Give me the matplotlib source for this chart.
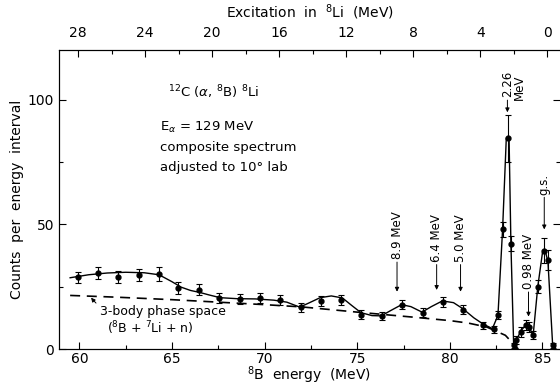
import numpy as np
import matplotlib.pyplot as plt

# measured points (8B energy in MeV, counts, error)
energy = [59.9, 61.0, 62.1, 63.2, 64.3, 65.35, 66.47, 67.56, 68.67, 69.75, 70.83,
          71.94, 73.02, 74.15, 75.23, 76.34, 77.44, 78.55, 79.63, 80.71, 81.78,
          82.36, 82.61, 82.86, 83.13, 83.28, 83.45, 83.6, 83.85, 84.12, 84.3,
          84.5, 84.75, 85.1, 85.28, 85.56]
counts = [28.8, 30.4, 28.8, 29.6, 30.0, 24.4, 23.7, 20.4, 20.1, 20.4, 19.7,
          16.7, 19.3, 19.7, 13.7, 13.3, 17.7, 14.6, 19.0, 15.7, 9.6,
          7.9, 13.7, 48.1, 84.6, 42.2, 1.5, 3.6, 7.0, 9.5, 9.0,
          5.6, 25.0, 39.5, 35.7, 1.6]
errors = [2.2, 2.5, 2.5, 2.5, 2.8, 2.4, 2.2, 2.0, 2.0, 2.0, 2.0,
          1.8, 2.0, 2.0, 1.8, 1.6, 1.8, 1.8, 2.0, 1.8, 1.4,
          1.3, 1.6, 3.0, 9.5, 3.0, 1.0, 1.5, 2.0, 2.0, 2.0,
          1.5, 2.5, 5.0, 4.0, 1.0]

# hand-drawn fit curve
fit_e = [59.5, 60.5, 61.5, 62.5, 63.5, 64.3, 65.0, 65.5, 66.0, 66.5, 67.0, 67.6,
         68.5, 69.5, 70.5, 71.2, 71.9, 72.4, 73.0, 73.6, 74.2, 74.7, 75.2, 75.8,
         76.3, 76.8, 77.4, 77.9, 78.5, 79.0, 79.6, 80.2, 80.7, 81.3, 81.8, 82.3,
         82.6, 82.85, 83.05, 83.2, 83.3, 83.45, 83.6, 83.85, 84.1, 84.3, 84.5,
         84.75, 85.0, 85.15, 85.3, 85.55, 85.7]
fit_c = [28.6, 29.8, 30.5, 30.8, 30.6, 29.8, 27.0, 24.8, 23.5, 22.7, 21.7, 20.6,
         20.2, 20.1, 19.6, 18.8, 16.8, 18.5, 20.6, 21.3, 20.5, 17.5, 14.6, 13.4,
         13.3, 15.4, 17.8, 17.0, 14.8, 17.0, 19.3, 18.6, 16.2, 12.5, 10.0, 8.2,
         13.5, 48.0, 84.6, 84.6, 42.0, 1.0, 3.6, 7.5, 9.5, 8.5, 5.5,
         25.0, 38.5, 39.5, 35.0, 2.0, 0.5]

# 3-body phase space
ps_e = [59.5, 62.0, 65.0, 68.0, 70.0, 72.0, 75.0, 78.0, 80.0, 81.0, 82.0, 83.0, 83.5, 83.7]
ps_c = [21.5, 20.8, 19.8, 18.6, 17.8, 16.9, 14.8, 12.8, 11.4, 10.4, 8.8, 5.5, 1.5, 0.0]

# excitation in 8Li on top axis
exc_ticks = [28, 24, 20, 16, 12, 8, 4, 0]
exc_minor = [26, 22, 18, 14, 10, 6, 2]
e0, slope = 85.27, 0.905

plt.rcParams['font.family'] = 'DejaVu Sans'
fig = plt.figure(figsize=(5.6, 3.85), dpi=100)
ax = fig.add_axes([0.1054, 0.0935, 0.8946, 0.7766])

ax.plot(ps_e, ps_c, color='black', lw=1.2, dashes=(6, 4))
ax.plot(fit_e, fit_c, color='black', lw=1.0)
ax.errorbar(energy, counts, yerr=errors, fmt='o', color='black', ms=3.5,
            elinewidth=0.8, capsize=2, capthick=0.8)

ax.set_xlim(58.9, 85.95)
ax.set_ylim(0, 120)
ax.set_xticks([60, 65, 70, 75, 80, 85])
ax.set_xticks([62.5, 67.5, 72.5, 77.5, 82.5], minor=True)
ax.set_yticks([0, 50, 100])
ax.set_yticks([25, 75], minor=True)
ax.tick_params(direction='in', labelsize=10, length=5, width=0.8, right=True)
ax.tick_params(axis='x', pad=2)
ax.tick_params(which='minor', direction='in', length=3, width=0.8, right=True)
ax.spines['right'].set_visible(False)
ax.set_xlabel(r'$^{8}$B  energy  (MeV)', fontsize=10, labelpad=-1)
ax.set_ylabel('Counts  per  energy  interval', fontsize=10, labelpad=3)

top = ax.twiny()
top.set_xlim(ax.get_xlim())
top.set_xticks([e0 - slope * x for x in exc_ticks])
top.set_xticklabels([str(x) for x in exc_ticks])
top.set_xticks([e0 - slope * x for x in exc_minor], minor=True)
top.tick_params(direction='in', labelsize=10, length=5, width=0.8, pad=7)
top.tick_params(which='minor', direction='in', length=3, width=0.8)
top.spines['right'].set_visible(False)
top.set_xlabel(r'Excitation  in  $^{8}$Li  (MeV)', fontsize=10, labelpad=6)

# reaction info
ax.text(64.8, 103, r'$^{12}$C ($\alpha$, $^{8}$B) $^{8}$Li', fontsize=9.5, va='center')
ax.text(64.35, 89, r'E$_\alpha$ = 129 MeV', fontsize=9.5, va='center')
ax.text(64.35, 81, 'composite spectrum', fontsize=9.5, va='center')
ax.text(64.35, 73, 'adjusted to 10° lab', fontsize=9.5, va='center')

# level markers
arrow = dict(arrowstyle='-|>', lw=0.7, color='black', mutation_scale=6, shrinkA=0, shrinkB=0)
levels = [('8.9 MeV', 77.15, 36, 23), ('6.4 MeV', 79.29, 35, 23.7),
          ('5.0 MeV', 80.58, 35, 23), ('0.98 MeV', 84.25, 24, 13),
          ('g.s.', 85.1, 62, 48), ('2.26', 83.11, 101, 95)]
for lab, x, yt, yh in levels:
    ax.annotate(lab, xy=(x, yh), xytext=(x, yt), rotation=90, ha='center', va='bottom',
                fontsize=8.5, arrowprops=arrow)
ax.text(83.76, 100, 'MeV', rotation=90, ha='center', va='bottom', fontsize=8.5)

# phase space label
ax.annotate('3-body phase space', xy=(60.63, 20.6), xytext=(61.1, 14.9), va='center',
            fontsize=9, arrowprops=dict(arrowstyle='-|>', lw=0.7, color='black',
                                        mutation_scale=6, shrinkA=1, shrinkB=0,
                                        connectionstyle='arc3,rad=-0.4'))
ax.text(61.5, 8.4, r'($^{8}$B + $^{7}$Li + n)', fontsize=9, va='center')

fig.savefig('out.png', dpi=100)
